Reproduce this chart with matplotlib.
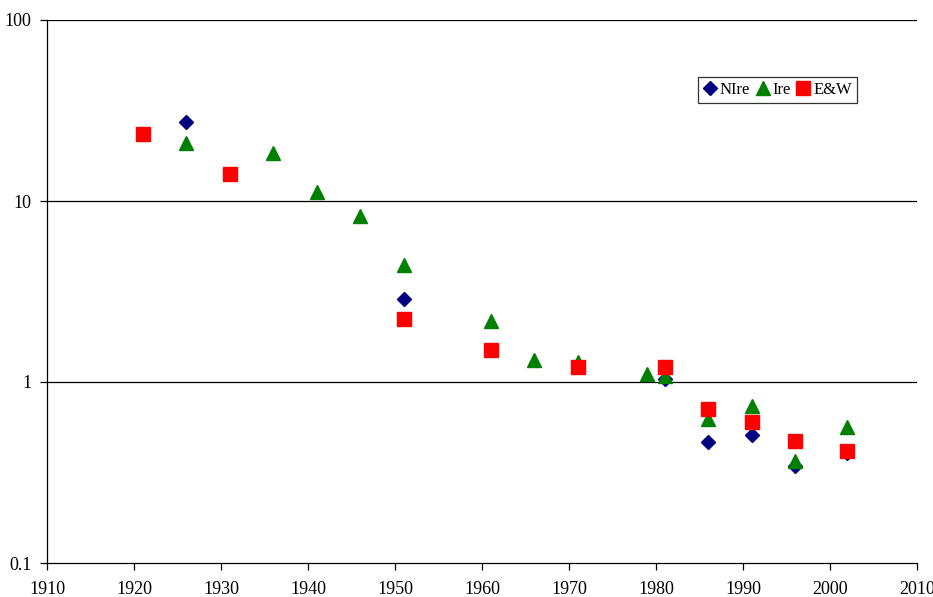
import matplotlib
matplotlib.use("Agg")
import matplotlib.pyplot as plt
from matplotlib.ticker import FixedLocator, FixedFormatter, NullLocator

plt.rcParams['font.family'] = ['Liberation Serif', 'DejaVu Serif']

# Northern Ireland
nire_year = [1926, 1951, 1981, 1986, 1991, 1996, 2002]
nire_val = [27.3, 2.87, 1.04, 0.466, 0.51, 0.343, 0.405]

# Ireland
ire_year = [1926, 1936, 1941, 1946, 1951, 1961, 1966, 1971, 1979, 1981, 1986, 1991, 1996, 2002]
ire_val = [20.9, 18.4, 11.2, 8.26, 4.43, 2.17, 1.32, 1.29, 1.11, 1.08, 0.625, 0.737, 0.366, 0.564]

# England & Wales
ew_year = [1921, 1931, 1951, 1961, 1971, 1981, 1986, 1991, 1996, 2002]
ew_val = [23.5, 14.1, 2.23, 1.50, 1.21, 1.21, 0.71, 0.60, 0.472, 0.416]

x_ticks = list(range(1910, 2011, 10))
y_ticks = [0.1, 1, 10, 100]
y_labels = ["0.1", "1", "10", "100"]

fig = plt.figure(figsize=(9.33, 5.97), dpi=100)
ax = fig.add_axes([47 / 933, 1 - 563 / 597, 870 / 933, 543 / 597])

ax.set_yscale('log')
ax.set_xlim(1910, 2010)
ax.set_ylim(0.1, 100)

for y in [1, 10, 100]:
    ax.axhline(y, color='black', lw=0.9, zorder=1)

ax.plot(nire_year, nire_val, linestyle='none', marker='D', ms=7,
        color='#000080', label='NIre', zorder=3)
ax.plot(ire_year, ire_val, linestyle='none', marker='^', ms=9.5,
        color='#008000', label='Ire', zorder=4)
ax.plot(ew_year, ew_val, linestyle='none', marker='s', ms=10.5,
        color='#FF0000', label='E&W', zorder=5)

ax.xaxis.set_major_locator(FixedLocator(x_ticks))
ax.yaxis.set_major_locator(FixedLocator(y_ticks))
ax.yaxis.set_major_formatter(FixedFormatter(y_labels))
ax.yaxis.set_minor_locator(NullLocator())
ax.tick_params(axis='both', direction='out', length=5, width=0.9,
               labelsize=13, color='black')
ax.tick_params(axis='x', pad=8)
ax.tick_params(axis='y', pad=6)

for s in ['top', 'right']:
    ax.spines[s].set_visible(False)
for s in ['left', 'bottom']:
    ax.spines[s].set_linewidth(0.9)

leg = ax.legend(loc='upper left', bbox_to_anchor=(651 / 870, 1 - 57 / 543),
                ncol=3, fontsize=12, frameon=True, fancybox=False,
                edgecolor='black', handlelength=0.8, handletextpad=0.2,
                columnspacing=0.35, borderpad=0.3, borderaxespad=0)
leg.get_frame().set_linewidth(0.9)

fig.savefig('out.png', dpi=100)
